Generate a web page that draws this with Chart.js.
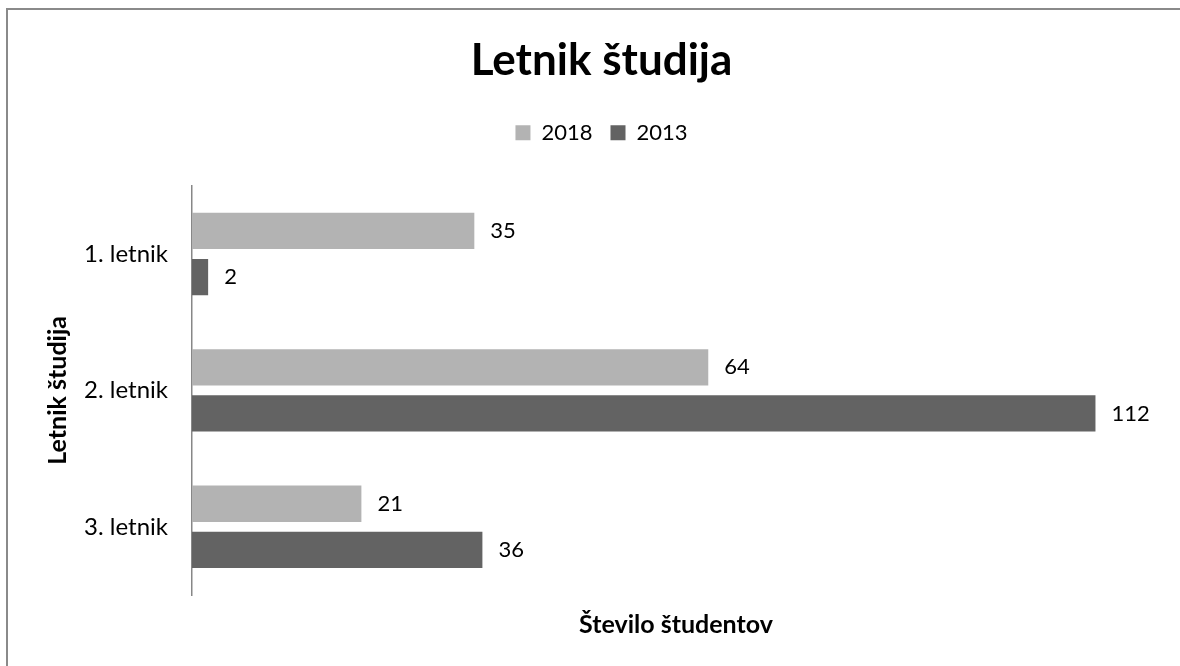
<!DOCTYPE html>
<html>
<head>
<meta charset="utf-8">
<script src="https://cdn.jsdelivr.net/npm/chart.js@4.4.1/dist/chart.umd.min.js"></script>
<style>
  html, body { margin: 0; padding: 0; background: #fff; overflow: hidden; }
  #frame { position: absolute; left: 6px; top: 8px; width: 1200px; height: 700px; border: 2px solid #8a8a8a; }
  #wrap { position: absolute; left: 0; top: 0; width: 1180px; height: 666px; }
</style>
</head>
<body>
<div id="frame"></div>
<div id="wrap"><canvas id="myChart"></canvas></div>
<script>
// podatki
const categories = ['1. letnik', '2. letnik', '3. letnik'];
const values2018 = [35, 64, 21];
const values2013 = [2, 112, 36];
const seriesNames = ['2018', '2013'];

const FONT = 'Lato, "Open Sans", sans-serif';

// vrednosti desno od stolpcev
const barLabels = {
    id: 'barLabels',
    afterDatasetsDraw(chart) {
        const ctx = chart.ctx;
        ctx.save();
        ctx.font = '22px ' + FONT;
        ctx.fillStyle = '#000';
        ctx.textAlign = 'left';
        ctx.textBaseline = 'middle';
        chart.data.datasets.forEach((ds, i) => {
            chart.getDatasetMeta(i).data.forEach((bar, j) => {
                ctx.fillText(String(ds.data[j]), bar.x + 16, bar.y);
            });
        });
        ctx.restore();
    }
};

// dodaten prostor pod legendo
const legendGap = {
    id: 'legendGap',
    beforeInit(chart) {
        const fit = chart.legend.fit;
        chart.legend.fit = function () {
            fit.call(this);
            this.height += 32;
        };
    }
};

const ctx = document.getElementById('myChart').getContext('2d');
new Chart(ctx, {
    type: 'bar',
    data: {
        labels: categories,
        datasets: [
            { label: seriesNames[0], data: values2018, backgroundColor: '#b3b3b3' },
            { label: seriesNames[1], data: values2013, backgroundColor: '#636363' }
        ]
    },
    options: {
        indexAxis: 'y',
        responsive: true,
        maintainAspectRatio: false,
        animation: false,
        categoryPercentage: 0.676,
        barPercentage: 0.787,
        layout: { padding: { top: 30, left: 43, right: 20, bottom: 26 } },
        plugins: {
            title: {
                display: true,
                text: 'Letnik študija',
                color: '#000',
                font: { family: FONT, size: 44, weight: 'bold' },
                padding: { top: 4, bottom: 17 }
            },
            legend: {
                position: 'top',
                labels: {
                    color: '#000',
                    font: { family: FONT, size: 22 },
                    boxWidth: 15,
                    boxHeight: 15,
                    padding: 18
                }
            },
            tooltip: { enabled: false }
        },
        scales: {
            x: {
                min: 0,
                max: 120,
                ticks: { display: false },
                grid: { display: false },
                border: { display: false },
                title: {
                    display: true,
                    text: 'Število študentov',
                    color: '#000',
                    font: { family: FONT, size: 25, weight: 'bold' },
                    padding: { top: 7, bottom: 0 }
                }
            },
            y: {
                afterFit(scale) { scale.width = 149; },
                ticks: { color: '#000', font: { family: FONT, size: 24 }, padding: 24 },
                grid: { display: false, drawTicks: false },
                border: { display: true, color: '#878787', width: 1.5 },
                title: {
                    display: true,
                    text: 'Letnik študija',
                    color: '#000',
                    font: { family: FONT, size: 25, weight: 'bold' },
                    padding: 0
                }
            }
        }
    },
    plugins: [barLabels, legendGap]
});
</script>
</body>
</html>
